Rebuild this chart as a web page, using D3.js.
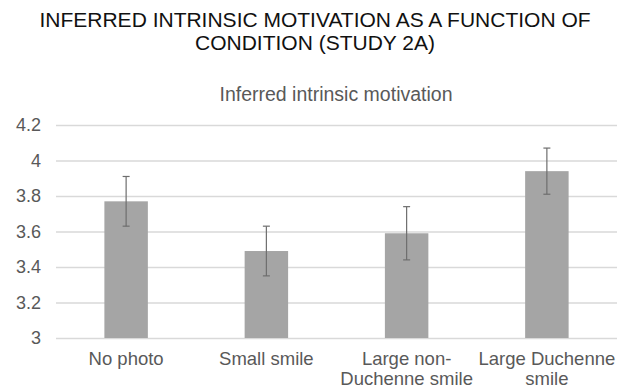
<!DOCTYPE html>
<html><head><meta charset="utf-8">
<script src="https://cdn.jsdelivr.net/npm/d3@7"></script>
<style>body{margin:0;background:#fff;} svg{display:block;font-family:"Liberation Sans",Arial,sans-serif;}</style>
</head><body>
<svg id="c" width="625" height="389"></svg>
<script>
const categories = [["No photo"], ["Small smile"], ["Large non-", "Duchenne smile"], ["Large Duchenne", "smile"]];
const means = [3.77, 3.49, 3.59, 3.94];
const errLow = [3.63, 3.35, 3.44, 3.81];
const errHigh = [3.91, 3.63, 3.74, 4.07];
const yTicks = [3, 3.2, 3.4, 3.6, 3.8, 4, 4.2];
const titleLines = ["INFERRED INTRINSIC MOTIVATION AS A FUNCTION OF", "CONDITION (STUDY 2A)"];
const chartTitle = "Inferred intrinsic motivation";

const svg = d3.select("#c");
const mLeft = 56, mRight = 617, mTop = 125, mBottom = 338;
const x = d3.scaleBand().domain(d3.range(categories.length)).range([mLeft, mRight]).paddingInner(0.69).paddingOuter(0.345);
const y = d3.scaleLinear().domain([3, 4.2]).range([mBottom, mTop]);

svg.selectAll("text.title").data(titleLines).join("text")
  .attr("x", 315).attr("y", (d,i) => 27 + i*23)
  .attr("text-anchor", "middle").attr("font-size", 21).attr("fill", "#111").text(d => d);

svg.append("text").attr("x", 336).attr("y", 101).attr("text-anchor", "middle")
  .attr("font-size", 19.5).attr("fill", "#595959").text(chartTitle);

const yAxis = d3.axisLeft(y).tickValues(yTicks).tickSize(-(mRight-mLeft)).tickFormat(d => d3.format("")(d));
const ga = svg.append("g").attr("transform", `translate(${mLeft},0)`).call(yAxis);
ga.select(".domain").remove();
ga.selectAll(".tick line").attr("stroke", "#d9d9d9").attr("stroke-width", 1.3);
ga.selectAll(".tick text").attr("x", -15).attr("font-size", 18).attr("fill", "#595959").attr("font-family", "Liberation Sans, Arial, sans-serif");

svg.selectAll("rect.bar").data(means).join("rect")
  .attr("x", (d,i) => x(i)).attr("width", x.bandwidth())
  .attr("y", d => y(d)).attr("height", d => y(3) - y(d)).attr("fill", "#a5a5a5");

const eg = svg.append("g").attr("stroke", "#6e6e6e").attr("stroke-width", 1.2);
means.forEach((m, i) => {
  const cx = x(i) + x.bandwidth()/2;
  eg.append("line").attr("x1", cx).attr("x2", cx).attr("y1", y(errLow[i])).attr("y2", y(errHigh[i]));
  eg.append("line").attr("x1", cx-3.5).attr("x2", cx+3.5).attr("y1", y(errLow[i])).attr("y2", y(errLow[i]));
  eg.append("line").attr("x1", cx-3.5).attr("x2", cx+3.5).attr("y1", y(errHigh[i])).attr("y2", y(errHigh[i]));
});

categories.forEach((lines, i) => {
  const cx = x(i) + x.bandwidth()/2;
  const t = svg.append("text").attr("text-anchor", "middle").attr("font-size", 18.5).attr("fill", "#595959");
  lines.forEach((l, j) => t.append("tspan").attr("x", cx).attr("y", 365 + j*20).text(l));
});
</script>
</body></html>
